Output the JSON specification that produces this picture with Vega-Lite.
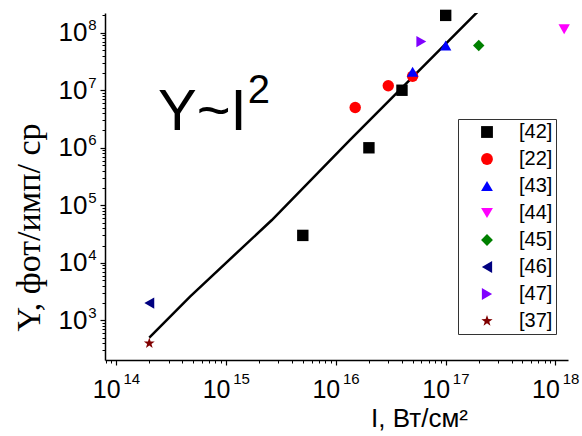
{
  "$schema": "https://vega.github.io/schema/vega-lite/v6.json",
  "width": 463,
  "height": 347,
  "autosize": {"type": "none"},
  "padding": {"left": 105, "top": 13, "right": 14, "bottom": 76},
  "background": "white",
  "config": {
    "view": {"stroke": null},
    "axis": {"grid": false, "domainColor": "black", "tickColor": "black", "labelColor": "black", "titleColor": "black", "labelFont": "Liberation Sans", "labelOverlap": false, "labelFlush": false}
  },
  "datasets": {
    "pts": [
      {"I": 1e17, "Y": 2e8, "ref": "[42]"},
      {"I": 4e16, "Y": 1e7, "ref": "[42]"},
      {"I": 2e16, "Y": 1e6, "ref": "[42]"},
      {"I": 5e15, "Y": 3e4, "ref": "[42]"},
      {"I": 1.5e16, "Y": 5e6, "ref": "[22]"},
      {"I": 3e16, "Y": 1.2e7, "ref": "[22]"},
      {"I": 5e16, "Y": 1.75e7, "ref": "[22]"},
      {"I": 5e16, "Y": 2.1e7, "ref": "[43]"},
      {"I": 1e17, "Y": 6e7, "ref": "[43]"},
      {"I": 1.2e18, "Y": 1.15e8, "ref": "[44]"},
      {"I": 2e17, "Y": 6e7, "ref": "[45]"},
      {"I": 2e14, "Y": 2e3, "ref": "[46]"},
      {"I": 6e16, "Y": 7e7, "ref": "[47]"},
      {"I": 2e14, "Y": 400, "ref": "[37]"}
    ],
    "fit": [
      {"I": 2e14, "Y": 500},
      {"I": 4.7e14, "Y": 2600},
      {"I": 2.6e15, "Y": 55000},
      {"I": 1.34e16, "Y": 1.36e6},
      {"I": 2.2e17, "Y": 2.9e8}
    ],
    "ann": [{"I": 2.4e14, "Y": 2.0e6, "t": "Y~I"}],
    "ann2": [{"I": 1.58e15, "Y": 6.1e6, "t": "2"}]
  },
  "layer": [
    {
      "data": {"name": "fit"},
      "mark": {"type": "line", "color": "black", "strokeWidth": 2.5, "clip": true},
      "encoding": {
        "x": {"field": "I", "type": "quantitative",
          "scale": {"type": "log", "domain": [7.9e13, 1.3e18], "nice": false, "zero": false},
          "axis": {"orient": "bottom", "values": [1e14, 1e15, 1e16, 1e17, 1e18], "domain": false, "ticks": false, "tickSize": 0,
            "labelExpr": "format(log(datum.value)/LN10, '.0f')", "labelFontSize": 15, "labelOffset": 15, "labelBaseline": "alphabetic", "labelPadding": 23, "title": null}},
        "y": {"field": "Y", "type": "quantitative",
          "scale": {"type": "log", "domain": [205, 2.2e8], "nice": false, "zero": false},
          "axis": {"orient": "left", "values": [1e3, 1e4, 1e5, 1e6, 1e7, 1e8], "domain": false, "ticks": false, "tickSize": 0,
            "labelExpr": "format(log(datum.value)/LN10, '.0f')", "labelFontSize": 15, "labelAlign": "right", "labelBaseline": "middle", "labelOffset": -8, "labelPadding": 9, "title": null}}
      }
    },
    {
      "data": {"name": "ann"},
      "mark": {"type": "text", "font": "Liberation Sans", "fontSize": 58, "align": "left", "baseline": "alphabetic", "color": "black"},
      "encoding": {
        "x": {"field": "I", "type": "quantitative",
          "scale": {"type": "log", "domain": [7.9e13, 1.3e18], "nice": false, "zero": false},
          "axis": {"orient": "bottom", "values": [8e13, 9e13, 2e14, 3e14, 4e14, 5e14, 6e14, 7e14, 8e14, 9e14, 2e15, 3e15, 4e15, 5e15, 6e15, 7e15, 8e15, 9e15, 2e16, 3e16, 4e16, 5e16, 6e16, 7e16, 8e16, 9e16, 2e17, 3e17, 4e17, 5e17, 6e17, 7e17, 8e17, 9e17],
            "labels": false, "domain": false, "tickSize": 3, "title": null}},
        "y": {"field": "Y", "type": "quantitative",
          "scale": {"type": "log", "domain": [205, 2.2e8], "nice": false, "zero": false},
          "axis": {"orient": "left", "values": [300, 400, 500, 600, 700, 800, 900, 2e3, 3e3, 4e3, 5e3, 6e3, 7e3, 8e3, 9e3, 2e4, 3e4, 4e4, 5e4, 6e4, 7e4, 8e4, 9e4, 2e5, 3e5, 4e5, 5e5, 6e5, 7e5, 8e5, 9e5, 2e6, 3e6, 4e6, 5e6, 6e6, 7e6, 8e6, 9e6, 2e7, 3e7, 4e7, 5e7, 6e7, 7e7, 8e7, 9e7, 2e8],
            "labels": false, "domain": false, "tickSize": 3, "title": null}},
        "text": {"field": "t", "type": "nominal"}
      }
    },
    {
      "data": {"name": "ann2"},
      "mark": {"type": "text", "font": "Liberation Sans", "fontSize": 40, "align": "left", "baseline": "alphabetic", "color": "black"},
      "encoding": {
        "x": {"field": "I", "type": "quantitative", "scale": {"type": "log", "domain": [7.9e13, 1.3e18], "nice": false, "zero": false}, "axis": null},
        "y": {"field": "Y", "type": "quantitative", "scale": {"type": "log", "domain": [205, 2.2e8], "nice": false, "zero": false}, "axis": null},
        "text": {"field": "t", "type": "nominal"}
      }
    },
    {
      "data": {"name": "pts"},
      "mark": {"type": "point", "filled": true, "opacity": 1, "size": 130, "strokeWidth": 0},
      "encoding": {
        "x": {"field": "I", "type": "quantitative",
          "scale": {"type": "log", "domain": [7.9e13, 1.3e18], "nice": false, "zero": false},
          "axis": {"orient": "bottom", "values": [1e14, 1e15, 1e16, 1e17, 1e18], "labelExpr": "'10'", "labelFontSize": 25, "labelOffset": -10, "labelBaseline": "alphabetic", "labelPadding": 32,
            "tickSize": 5, "tickWidth": 1.2, "domainWidth": 1.5,
            "title": "I, Вт/см²", "titleFont": "Liberation Sans", "titleFontSize": 26, "titleFontWeight": "normal", "titleX": 314, "titleY": 66, "titleBaseline": "alphabetic", "titleAlign": "center"}},
        "y": {"field": "Y", "type": "quantitative",
          "scale": {"type": "log", "domain": [205, 2.2e8], "nice": false, "zero": false},
          "axis": {"orient": "left", "values": [1e3, 1e4, 1e5, 1e6, 1e7, 1e8], "labelExpr": "'10'", "labelFontSize": 26, "labelAlign": "right", "labelBaseline": "middle", "labelPadding": 13,
            "tickSize": 5, "tickWidth": 1.2, "domainWidth": 1.5,
            "title": "Y, фот/имп/ ср", "titleFont": "Liberation Serif", "titleFontSize": 34, "titleFontWeight": "normal", "titleAngle": -90, "titleX": -76, "titleY": 214, "titleAlign": "center", "titleBaseline": "middle"}},
        "color": {"field": "ref", "type": "nominal",
          "scale": {"domain": ["[42]", "[22]", "[43]", "[44]", "[45]", "[46]", "[47]", "[37]"],
            "range": ["#000000", "#ff0000", "#0000ff", "#ff00ff", "#008000", "#000080", "#8000ff", "#800000"]},
          "legend": {"title": null, "orient": "none", "legendX": 353, "legendY": 106, "padding": 3, "symbolOffset": 16, "labelOffset": 22, "rowPadding": 7,
            "labelFontSize": 20, "labelFont": "Liberation Sans", "labelColor": "black", "strokeColor": "#333", "symbolSize": 140, "symbolStrokeWidth": 0, "symbolOpacity": 1}},
        "shape": {"field": "ref", "type": "nominal",
          "scale": {"domain": ["[42]", "[22]", "[43]", "[44]", "[45]", "[46]", "[47]", "[37]"],
            "range": ["square", "circle", "triangle-up", "triangle-down", "diamond", "triangle-left", "triangle-right", "M0,-1L0.235,-0.324L0.951,-0.309L0.38,0.124L0.588,0.809L0,0.4L-0.588,0.809L-0.38,0.124L-0.951,-0.309L-0.235,-0.324Z"]}}
      }
    }
  ],
  "resolve": {"axis": {"x": "independent", "y": "independent"}}
}
